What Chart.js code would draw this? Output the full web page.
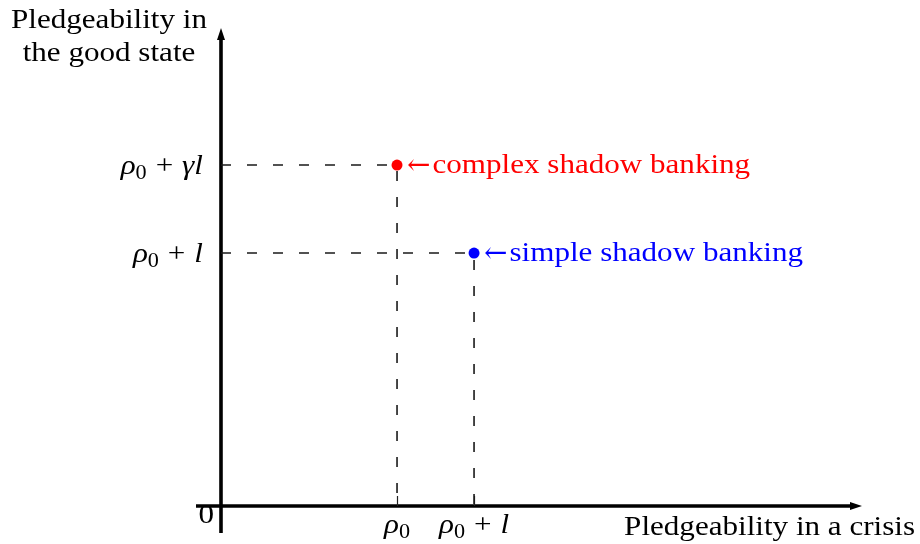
<!DOCTYPE html>
<html>
<head>
<meta charset="utf-8">
<script src="https://cdn.jsdelivr.net/npm/chart.js@4.4.0/dist/chart.umd.min.js"></script>
<style>
  html, body { margin: 0; padding: 0; background: #fff; }
  #wrap { width: 920px; height: 544px; position: relative; }
</style>
</head>
<body>
<div id="wrap"><canvas id="c"></canvas></div>
<script>
// ---- data (model units) ----
const rho0 = 4.0;          // ρ0
const l = 1.75;            // l
const gammaL = 3.75;       // γ·l
const pointNames = ['complex shadow banking', 'simple shadow banking'];
const pointX = [rho0, rho0 + l];          // pledgeability in a crisis
const pointY = [rho0 + gammaL, rho0 + l]; // pledgeability in the good state
const xTickValues = [rho0, rho0 + l];
const xTickLabels = ['ρ0', 'ρ0 + l'];
const yTickValues = [rho0 + gammaL, rho0 + l];
const yTickLabels = ['ρ0 + γl', 'ρ0 + l'];
const xAxisTitle = 'Pledgeability in a crisis';
const yAxisTitle = ['Pledgeability in', 'the good state'];

const pointColors = ['#ff0000', '#0000ff'];
const FONT = '"Liberation Serif", "Times New Roman", serif';
const FS = 28;
const SX = 1.11; // horizontal stretch to mimic Computer Modern widths

function textW(ctx, s) { return ctx.measureText(s).width * SX; }
function fillS(ctx, s, x, y, align) {
  const w = textW(ctx, s);
  const left = align === 'right' ? x - w : align === 'center' ? x - w/2 : x;
  ctx.save();
  ctx.textAlign = 'left'; ctx.textBaseline = 'alphabetic';
  ctx.translate(left, y); ctx.scale(SX, 1);
  ctx.fillText(s, 0, 0);
  ctx.restore();
  return w;
}

// draw a label like "ρ0 + γl": letters italic, digit after ρ as subscript
function mathRuns(s) {
  const runs = [];
  for (let i = 0; i < s.length; i++) {
    const ch = s[i];
    if (/[0-9]/.test(ch) && i > 0 && s[i-1] === 'ρ') runs.push({t: ch, sub: true});
    else if (/[a-zA-Zργ]/.test(ch)) runs.push({t: ch, it: true});
    else if (ch === '+') runs.push({t: '+', op: true});
    else if (ch === ' ') {/* spacing handled around + */}
    else runs.push({t: ch});
  }
  return runs;
}
function runFont(r) {
  if (r.sub) return `${Math.round(FS*0.72)}px ${FONT}`;
  if (r.it) return `italic ${FS}px ${FONT}`;
  return `${FS}px ${FONT}`;
}
const OPSP = 0.32;
function runWidth(ctx, r) {
  ctx.font = runFont(r);
  let w = textW(ctx, r.t);
  if (r.op) w += FS * OPSP * 2;
  return w;
}
function drawMath(ctx, s, x, y, align) {
  const runs = mathRuns(s);
  let total = 0;
  runs.forEach(r => total += runWidth(ctx, r));
  let cx = align === 'right' ? x - total : align === 'center' ? x - total/2 : x;
  runs.forEach(r => {
    ctx.font = runFont(r);
    const w = runWidth(ctx, r);
    if (r.op) fillS(ctx, r.t, cx + FS*OPSP, y);
    else if (r.sub) fillS(ctx, r.t, cx, y + FS*0.17);
    else fillS(ctx, r.t, cx, y);
    cx += w;
  });
}

const axesPlugin = {
  id: 'axes',
  beforeDatasetsDraw(chart) {
    const {ctx, scales: {x, y}, chartArea: ca} = chart;
    const x0 = x.getPixelForValue(0), y0 = y.getPixelForValue(0);
    ctx.save();
    ctx.strokeStyle = '#000'; ctx.fillStyle = '#000';
    ctx.lineWidth = 3.6; ctx.lineCap = 'butt';
    // y axis
    ctx.beginPath(); ctx.moveTo(x0, ca.bottom); ctx.lineTo(x0, ca.top + 8); ctx.stroke();
    ctx.beginPath(); ctx.moveTo(x0, ca.top - 2); ctx.lineTo(x0 - 4, ca.top + 10); ctx.lineTo(x0 + 4, ca.top + 10); ctx.closePath(); ctx.fill();
    // x axis
    ctx.beginPath(); ctx.moveTo(ca.left, y0); ctx.lineTo(ca.right - 8, y0); ctx.stroke();
    ctx.beginPath(); ctx.moveTo(ca.right + 2, y0); ctx.lineTo(ca.right - 10, y0 - 4); ctx.lineTo(ca.right - 10, y0 + 4); ctx.closePath(); ctx.fill();
    // x tick marks
    ctx.lineWidth = 1.2;
    ctx.strokeStyle = '#222';
    xTickValues.forEach(v => {
      const px = Math.round(x.getPixelForValue(v)) + 0.5;
      ctx.beginPath(); ctx.moveTo(px, y0 - 10); ctx.lineTo(px, y0); ctx.stroke();
    });
    ctx.restore();
  },
  afterDatasetsDraw(chart) {
    const {ctx, scales: {x, y}} = chart;
    const x0 = x.getPixelForValue(0), y0 = y.getPixelForValue(0);
    ctx.save();
    ctx.fillStyle = '#000';
    // y tick labels
    yTickValues.forEach((v, i) => drawMath(ctx, yTickLabels[i], x0 - 18, y.getPixelForValue(v) + 9, 'right'));
    // x tick labels
    xTickValues.forEach((v, i) => drawMath(ctx, xTickLabels[i], x.getPixelForValue(v), y0 + 27, 'center'));
    // origin
    ctx.font = `${FS}px ${FONT}`;
    fillS(ctx, '0', x0 - 7, y0 + 17, 'right');
    // axis titles
    fillS(ctx, yAxisTitle[0], 109, 28, 'center');
    fillS(ctx, yAxisTitle[1], 109, 61, 'center');
    fillS(ctx, xAxisTitle, 915, y0 + 29, 'right');
    // point annotations
    pointNames.forEach((n, i) => {
      ctx.fillStyle = pointColors[i];
      const px = x.getPixelForValue(pointX[i]) + 10;
      const py = y.getPixelForValue(pointY[i]) + 8;
      ctx.font = `${FS}px "DejaVu Serif", serif`;
      ctx.save(); ctx.textAlign = 'left'; ctx.textBaseline = 'alphabetic';
      ctx.fillText('←', px, py + 1);
      const aw = ctx.measureText('←').width;
      ctx.restore();
      ctx.font = `${FS}px ${FONT}`;
      fillS(ctx, n, px + aw + 2, py, 'left');
    });
    ctx.restore();
  }
};

const datasets = [];
pointNames.forEach((n, i) => {
  datasets.push({
    type: 'scatter',
    label: n,
    data: [{x: pointX[i], y: pointY[i]}],
    pointRadius: 5.5,
    pointBackgroundColor: pointColors[i],
    pointBorderWidth: 0,
    order: 0
  });
  datasets.push({
    type: 'line',
    label: n + ' guides',
    data: [{x: 0, y: pointY[i]}, {x: pointX[i], y: pointY[i]}, {x: pointX[i], y: 0}],
    borderColor: '#1a1a1a',
    borderWidth: 1.6,
    borderDash: [10, 16],
    pointRadius: 0,
    fill: false,
    tension: 0,
    order: 1
  });
});

new Chart(document.getElementById('c'), {
  data: { datasets },
  options: {
    responsive: true,
    maintainAspectRatio: false,
    animation: false,
    events: [],
    layout: { padding: { left: 196, right: 60, top: 30, bottom: 11 } },
    plugins: { legend: { display: false }, tooltip: { enabled: false } },
    scales: {
      x: { type: 'linear', min: -0.568, max: 14.52, display: false },
      y: { type: 'linear', min: -0.614, max: 10.82, display: false }
    }
  },
  plugins: [axesPlugin]
});
</script>
</body>
</html>
